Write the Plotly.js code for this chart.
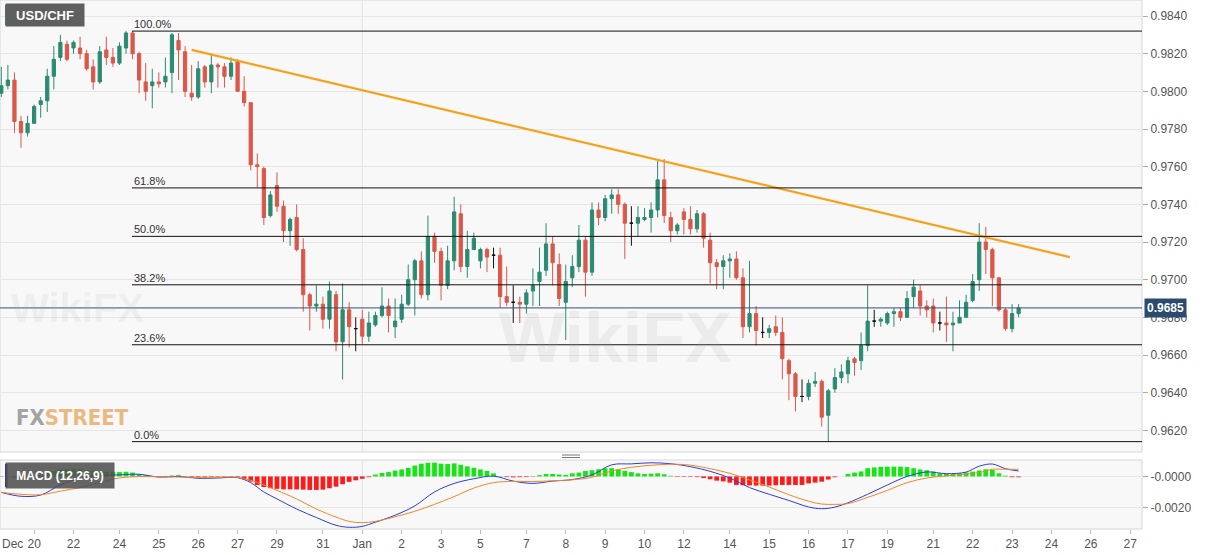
<!DOCTYPE html>
<html>
<head>
<meta charset="utf-8">
<script src="https://cdn.plot.ly/plotly-3.0.1.min.js"></script>
<style>
  html, body { margin: 0; padding: 0; background: #fff; }
  #chart { width: 1207px; height: 555px; }
</style>
</head>
<body>
<div id="chart"></div>
<script>
// USD/CHF 4H candles, index 0 = Dec 20 00:00 (Sunday = one candle)
const firstIdx = -5;

const opens = [
  0.9799, 0.9803, 0.9806, 0.9784, 0.9778, 0.9783, 0.9793, 0.9795, 0.9808, 0.9818,
  0.9825, 0.9823, 0.9823, 0.9820, 0.9813, 0.9805, 0.9822, 0.9818, 0.9815, 0.9823,
  0.9831, 0.9820, 0.9805, 0.9803, 0.9805, 0.9805, 0.9810, 0.9827, 0.9821, 0.9799,
  0.9797, 0.9813, 0.9805, 0.9814, 0.9813, 0.9808, 0.9816, 0.9800, 0.9794, 0.9761,
  0.9759, 0.9734, 0.9750, 0.9739, 0.9726, 0.9733, 0.9716, 0.9692, 0.9686, 0.9687,
  0.9679, 0.9692, 0.9667, 0.9684, 0.9674, 0.9679, 0.9670, 0.9676, 0.9681, 0.9686,
  0.9675, 0.9679, 0.9687, 0.9700, 0.9710, 0.9692, 0.9723, 0.9715, 0.9697, 0.9710,
  0.9735, 0.9707, 0.9716, 0.9710, 0.9716, 0.9713, 0.9713, 0.9691, 0.9688, 0.9688,
  0.9687, 0.9694, 0.9699, 0.9705, 0.9719, 0.9708, 0.9688, 0.9701, 0.9707, 0.9721,
  0.9704, 0.9737, 0.9733, 0.9743, 0.9745, 0.9740, 0.9730, 0.9730, 0.9732, 0.9733,
  0.9737, 0.9753, 0.9733, 0.9726, 0.9736, 0.9732, 0.9727, 0.9735, 0.9721, 0.9709,
  0.9707, 0.9710, 0.9711, 0.9701, 0.9675, 0.9682, 0.9672, 0.9672, 0.9675, 0.9672,
  0.9657, 0.9650, 0.9638, 0.9638, 0.9645, 0.9646, 0.9628, 0.9642, 0.9648, 0.9650,
  0.9658, 0.9657, 0.9665, 0.9678, 0.9678, 0.9677, 0.9682, 0.9683, 0.9680, 0.9691,
  0.9694, 0.9686, 0.9686, 0.9677, 0.9677, 0.9676, 0.9677, 0.9680, 0.9689, 0.9700,
  0.9720, 0.9716, 0.9701, 0.9684, 0.9674, 0.9682
];
const highs = [
  0.9813, 0.9814, 0.9810, 0.9787, 0.9787, 0.9793, 0.9797, 0.9812, 0.9824, 0.9830,
  0.9827, 0.9827, 0.9829, 0.9822, 0.9817, 0.9824, 0.9829, 0.9823, 0.9826, 0.9832,
  0.9832, 0.9821, 0.9815, 0.9812, 0.9810, 0.9818, 0.9831, 0.9831, 0.9824, 0.9814,
  0.9816, 0.9814, 0.9820, 0.9815, 0.9815, 0.9818, 0.9817, 0.9808, 0.9794, 0.9767,
  0.9760, 0.9747, 0.9757, 0.9742, 0.9733, 0.9740, 0.9722, 0.9693, 0.9697, 0.9691,
  0.9699, 0.9694, 0.9698, 0.9688, 0.9680, 0.9684, 0.9683, 0.9683, 0.9696, 0.9690,
  0.9690, 0.9692, 0.9708, 0.9711, 0.9715, 0.9734, 0.9725, 0.9717, 0.9718, 0.9744,
  0.9740, 0.9726, 0.9725, 0.9717, 0.9717, 0.9717, 0.9717, 0.9707, 0.9697, 0.9691,
  0.9695, 0.9706, 0.9717, 0.9730, 0.9723, 0.9714, 0.9708, 0.9713, 0.9729, 0.9723,
  0.9741, 0.9741, 0.9745, 0.9748, 0.9748, 0.9741, 0.9739, 0.9739, 0.9738, 0.9741,
  0.9763, 0.9764, 0.9736, 0.9730, 0.9738, 0.9739, 0.9737, 0.9736, 0.9725, 0.9711,
  0.9713, 0.9714, 0.9715, 0.9706, 0.9710, 0.9686, 0.9680, 0.9676, 0.9681, 0.9680,
  0.9658, 0.9651, 0.9647, 0.9647, 0.9651, 0.9647, 0.9642, 0.9653, 0.9655, 0.9659,
  0.9659, 0.9672, 0.9697, 0.9684, 0.9680, 0.9683, 0.9685, 0.9685, 0.9694, 0.9700,
  0.9697, 0.9689, 0.9690, 0.9683, 0.9691, 0.9683, 0.9689, 0.9692, 0.9703, 0.9730,
  0.9728, 0.9717, 0.9701, 0.9685, 0.9687, 0.9687
];
const lows = [
  0.9797, 0.9801, 0.9778, 0.9770, 0.9776, 0.9783, 0.9786, 0.9789, 0.9801, 0.9816,
  0.9816, 0.9820, 0.9817, 0.9811, 0.9801, 0.9804, 0.9814, 0.9813, 0.9814, 0.9820,
  0.9817, 0.9799, 0.9795, 0.9791, 0.9802, 0.9802, 0.9799, 0.9806, 0.9797, 0.9795,
  0.9796, 0.9802, 0.9799, 0.9802, 0.9802, 0.9806, 0.9800, 0.9792, 0.9758, 0.9749,
  0.9729, 0.9733, 0.9736, 0.9720, 0.9718, 0.9715, 0.9683, 0.9673, 0.9683, 0.9674,
  0.9674, 0.9662, 0.9647, 0.9664, 0.9662, 0.9666, 0.9667, 0.9675, 0.9680, 0.9672,
  0.9669, 0.9677, 0.9686, 0.9681, 0.9690, 0.9689, 0.9709, 0.9689, 0.9695, 0.9705,
  0.9704, 0.9701, 0.9716, 0.9706, 0.9704, 0.9706, 0.9685, 0.9686, 0.9677, 0.9677,
  0.9682, 0.9686, 0.9686, 0.9702, 0.9697, 0.9686, 0.9668, 0.9696, 0.9704, 0.9691,
  0.9702, 0.9729, 0.9731, 0.9735, 0.9735, 0.9711, 0.9718, 0.9723, 0.9731, 0.9725,
  0.9733, 0.9730, 0.9720, 0.9724, 0.9724, 0.9724, 0.9725, 0.9717, 0.9698, 0.9695,
  0.9695, 0.9701, 0.9700, 0.9669, 0.9672, 0.9665, 0.9669, 0.9669, 0.9670, 0.9647,
  0.9636, 0.9630, 0.9635, 0.9636, 0.9643, 0.9622, 0.9614, 0.9640, 0.9645, 0.9645,
  0.9649, 0.9652, 0.9662, 0.9675, 0.9675, 0.9676, 0.9675, 0.9678, 0.9680, 0.9685,
  0.9681, 0.9680, 0.9672, 0.9673, 0.9667, 0.9662, 0.9677, 0.9680, 0.9688, 0.9694,
  0.9703, 0.9686, 0.9683, 0.9673, 0.9672, 0.9680
];
const closes = [
  0.9803, 0.9806, 0.9784, 0.9778, 0.9783, 0.9792, 0.9795, 0.9808, 0.9817, 0.9826,
  0.9817, 0.9826, 0.9820, 0.9812, 0.9805, 0.9821, 0.9818, 0.9815, 0.9824, 0.9831,
  0.9820, 0.9806, 0.9800, 0.9805, 0.9804, 0.9808, 0.9830, 0.9822, 0.9800, 0.9797,
  0.9812, 0.9805, 0.9814, 0.9813, 0.9808, 0.9815, 0.9800, 0.9794, 0.9761, 0.9760,
  0.9733, 0.9745, 0.9739, 0.9726, 0.9732, 0.9716, 0.9692, 0.9686, 0.9687, 0.9679,
  0.9694, 0.9667, 0.9684, 0.9675, 0.9674, 0.9670, 0.9677, 0.9681, 0.9686, 0.9681,
  0.9678, 0.9687, 0.9700, 0.9710, 0.9692, 0.9723, 0.9715, 0.9697, 0.9710, 0.9736,
  0.9707, 0.9716, 0.9722, 0.9716, 0.9712, 0.9713, 0.9691, 0.9688, 0.9688, 0.9687,
  0.9693, 0.9697, 0.9704, 0.9719, 0.9709, 0.9690, 0.9699, 0.9707, 0.9721, 0.9704,
  0.9737, 0.9733, 0.9743, 0.9745, 0.9740, 0.9730, 0.9730, 0.9733, 0.9733, 0.9737,
  0.9753, 0.9734, 0.9726, 0.9729, 0.9732, 0.9727, 0.9735, 0.9722, 0.9709, 0.9707,
  0.9710, 0.9711, 0.9701, 0.9675, 0.9682, 0.9673, 0.9672, 0.9674, 0.9672, 0.9658,
  0.9650, 0.9638, 0.9638, 0.9645, 0.9646, 0.9627, 0.9641, 0.9648, 0.9651, 0.9657,
  0.9656, 0.9665, 0.9678, 0.9678, 0.9679, 0.9682, 0.9683, 0.9680, 0.9690, 0.9696,
  0.9686, 0.9684, 0.9677, 0.9677, 0.9676, 0.9677, 0.9680, 0.9688, 0.9699, 0.9720,
  0.9716, 0.9701, 0.9684, 0.9674, 0.9682, 0.9685
];

// MACD (12,26,9)
const macdHist = [
  -0.00002, -0.00005, -0.00008, -0.00010, -0.00006, 0.00000, 0.00008, 0.00020, 0.00035, 0.00045,
  0.00048, 0.00050, 0.00048, 0.00040, 0.00035, 0.00032, 0.00030, 0.00030, 0.00028, 0.00030,
  0.00025, 0.00015, 0.00008, 0.00002, -0.00003, -0.00004, 0.00006, 0.00008, 0.00002, -0.00004,
  -0.00006, -0.00005, -0.00004, -0.00003, -0.00003, -0.00002, -0.00005, -0.00018, -0.00033, -0.00055,
  -0.00068, -0.00076, -0.00080, -0.00083, -0.00083, -0.00084, -0.00085, -0.00087, -0.00087, -0.00085,
  -0.00076, -0.00066, -0.00050, -0.00035, -0.00025, -0.00015, -0.00005, 0.00012, 0.00022, 0.00028,
  0.00038, 0.00045, 0.00055, 0.00070, 0.00082, 0.00088, 0.00089, 0.00082, 0.00080, 0.00084,
  0.00075, 0.00065, 0.00056, 0.00045, 0.00035, 0.00020, 0.00002, -0.00004, -0.00006, -0.00005,
  -0.00004, -0.00002, 0.00008, 0.00016, 0.00016, 0.00012, 0.00010, 0.00020, 0.00025, 0.00035,
  0.00040, 0.00046, 0.00053, 0.00053, 0.00045, 0.00036, 0.00028, 0.00020, 0.00016, 0.00018,
  0.00020, 0.00014, 0.00004, -0.00003, -0.00003, -0.00003, -0.00004, -0.00010, -0.00018, -0.00027,
  -0.00032, -0.00040, -0.00055, -0.00057, -0.00058, -0.00059, -0.00059, -0.00059, -0.00057, -0.00055,
  -0.00055, -0.00055, -0.00055, -0.00045, -0.00040, -0.00034, -0.00020, -0.00005, 0.00000, 0.00016,
  0.00025, 0.00032, 0.00053, 0.00058, 0.00062, 0.00063, 0.00063, 0.00063, 0.00060, 0.00053,
  0.00045, 0.00040, 0.00031, 0.00020, 0.00016, 0.00016, 0.00020, 0.00026, 0.00031, 0.00038,
  0.00046, 0.00042, 0.00020, 0.00005, -0.00005, -0.00005
];
const macdIdx = [
  -5, -2, 1, 4, 7, 10, 13, 16, 19, 22, 25, 28, 31, 33, 35, 37, 40, 43, 46, 48,
  50, 52, 55, 58, 61, 64, 67, 70, 73, 76, 79, 82, 85, 88, 91, 94, 97, 100, 103, 106,
  109, 112, 115, 118, 120, 122, 124, 127, 130, 133, 136, 139, 142, 144, 146, 148, 150
];
const macdLine = [
  -0.00103, -0.00128, -0.00120, -0.00055, -0.00010, 0.00006, 0.00010, 0.00014, -0.00004, 0.00000,
  -0.00012, -0.00010, -0.00008, -0.00040, -0.00100, -0.00145, -0.00210, -0.00265, -0.00315, -0.00328,
  -0.00322, -0.00295, -0.00250, -0.00190, -0.00100, -0.00045, -0.00015, 0.00002, -0.00030, -0.00045,
  -0.00030, -0.00020, 0.00010, 0.00075, 0.00081, 0.00088, 0.00082, 0.00063, 0.00033, -0.00010,
  -0.00072, -0.00115, -0.00155, -0.00197, -0.00208, -0.00198, -0.00170, -0.00115, -0.00055, 0.00000,
  0.00029, 0.00018, 0.00028, 0.00066, 0.00080, 0.00050, 0.00035
];
const signalLine = [
  -0.00103, -0.00115, -0.00118, -0.00095, -0.00072, -0.00040, -0.00010, -0.00001, -0.00002, -0.00004,
  -0.00005, -0.00005, -0.00006, -0.00025, -0.00055, -0.00090, -0.00145, -0.00210, -0.00262, -0.00290,
  -0.00298, -0.00290, -0.00260, -0.00225, -0.00180, -0.00130, -0.00075, -0.00040, -0.00032, -0.00033,
  -0.00028, -0.00022, -0.00005, 0.00035, 0.00059, 0.00072, 0.00079, 0.00073, 0.00050, 0.00020,
  -0.00022, -0.00068, -0.00118, -0.00160, -0.00178, -0.00180, -0.00175, -0.00135, -0.00090, -0.00040,
  -0.00010, 0.00004, 0.00016, 0.00025, 0.00046, 0.00046, 0.00046
];

// date labels on the candle index axis
const dayTicks  = [0, 6, 13, 19, 25, 31, 37, 44, 50, 56, 62, 68, 75, 81, 87, 93, 99, 106, 112, 118, 124, 130, 137, 143, 149, 155, 161, 167];
const dayLabels = ['20', '22', '24', '25', '26', '27', '29', '31', 'Jan', '2', '3', '5', '7', '8', '9', '10', '12', '14', '15', '16', '17', '19', '21', '22', '23', '24', '26', '27'];
const priceTicks = [0.9620, 0.9640, 0.9660, 0.9680, 0.9700, 0.9720, 0.9740, 0.9760, 0.9780, 0.9800, 0.9820, 0.9840];

// fibonacci retracement Dec 24 high -> Jan 16 low
const fibHigh = 0.9832, fibLow = 0.9614, fibStartIdx = 14.9;
const fibRatios = [1, 0.618, 0.5, 0.382, 0.236, 0];

// falling trend line
const trendX = [24, 157.8];
const trendY = [0.9822, 0.9712];

// ---------------------------------------------------------------
const W = 1142, H = 529;            // plot area size in px
const px = x => x / W;
const py = y => (H - y) / H;
const xRange = [-5.2, 168.8];

const idx = opens.map((_, k) => k + firstIdx);
const isDoji = opens.map((o, k) => o === closes[k]);
const pick = (arr, want) => arr.map((v, k) => isDoji[k] === want ? v : null);

const candles = {
  type: 'candlestick', x: idx,
  open: pick(opens, false), high: pick(highs, false), low: pick(lows, false), close: pick(closes, false),
  increasing: {line: {color: '#2b8a72', width: 1}, fillcolor: '#2b8a72'},
  decreasing: {line: {color: '#d9584a', width: 1}, fillcolor: '#d9584a'},
  whiskerwidth: 0, hoverinfo: 'skip', xaxis: 'x', yaxis: 'y'
};
const dojis = {
  type: 'candlestick', x: idx,
  open: pick(opens, true), high: pick(highs, true), low: pick(lows, true), close: pick(closes, true),
  increasing: {line: {color: '#111', width: 1}, fillcolor: '#111'},
  decreasing: {line: {color: '#111', width: 1}, fillcolor: '#111'},
  whiskerwidth: 0, hoverinfo: 'skip', xaxis: 'x', yaxis: 'y'
};
const trend = {
  type: 'scatter', mode: 'lines', x: trendX, y: trendY,
  line: {color: '#f7a11a', width: 2.2}, hoverinfo: 'skip', xaxis: 'x', yaxis: 'y'
};
const hist = {
  type: 'bar', x: idx, y: macdHist, width: 0.72,
  marker: {color: macdHist.map(v => v >= 0 ? '#14e614' : '#ff1a1a'), line: {width: 0}},
  hoverinfo: 'skip', xaxis: 'x', yaxis: 'y2'
};
const macd = {
  type: 'scatter', mode: 'lines', x: macdIdx, y: macdLine,
  line: {color: '#2a3fd6', width: 1, shape: 'spline'}, hoverinfo: 'skip', xaxis: 'x', yaxis: 'y2'
};
const signal = {
  type: 'scatter', mode: 'lines', x: macdIdx, y: signalLine,
  line: {color: '#f0872a', width: 1, shape: 'spline'}, hoverinfo: 'skip', xaxis: 'x', yaxis: 'y2'
};

const lastClose = closes[closes.length - 1];
const axisFont = {family: 'Arial, Liberation Sans, sans-serif', size: 12, color: '#555'};

const shapes = [
  // panel backgrounds
  {type: 'rect', xref: 'paper', yref: 'paper', x0: 0, x1: 1, y0: py(452), y1: 1,
   fillcolor: '#f8f8f8', line: {color: '#d6d6d6', width: 1}, layer: 'below'},
  {type: 'rect', xref: 'paper', yref: 'paper', x0: 0, x1: 1, y0: 0, y1: py(460),
   fillcolor: '#f8f8f8', line: {color: '#d6d6d6', width: 1}, layer: 'below'},
  // month separator
  {type: 'line', xref: 'x', yref: 'paper', x0: 50, x1: 50, y0: py(452), y1: 1,
   line: {color: '#e2e2e2', width: 1}, layer: 'below'},
  {type: 'line', xref: 'x', yref: 'paper', x0: 50, x1: 50, y0: 0, y1: py(460),
   line: {color: '#e2e2e2', width: 1}, layer: 'below'},
  // current price line
  {type: 'line', xref: 'paper', yref: 'y', x0: 0, x1: 1, y0: lastClose, y1: lastClose,
   line: {color: '#34507a', width: 1}},
  // panel splitter handle
  {type: 'line', xref: 'paper', yref: 'paper', x0: px(562), x1: px(580), y0: py(455), y1: py(455),
   line: {color: '#777', width: 1}},
  {type: 'line', xref: 'paper', yref: 'paper', x0: px(562), x1: px(580), y0: py(457.5), y1: py(457.5),
   line: {color: '#777', width: 1}}
];

const annotations = [
  {xref: 'paper', yref: 'paper', x: 0, y: 0, xanchor: 'left', yanchor: 'top', yshift: -6,
   text: 'Dec', showarrow: false, font: axisFont},
  {xref: 'paper', yref: 'paper', x: px(5), y: py(15), xanchor: 'left', yanchor: 'middle',
   text: '<b>USD/CHF</b>', showarrow: false,
   font: {family: 'Arial, Liberation Sans, sans-serif', size: 13, color: '#fff'},
   bgcolor: '#5f5f5f', width: 76, height: 20},
  {xref: 'paper', yref: 'paper', x: px(5), y: py(475.5), xanchor: 'left', yanchor: 'middle',
   text: '<b>MACD (12,26,9)</b>', showarrow: false,
   font: {family: 'Arial, Liberation Sans, sans-serif', size: 12, color: '#fff'},
   bgcolor: 'rgba(80,80,80,0.88)', width: 106, height: 23},
  {xref: 'paper', yref: 'y', x: 1, xanchor: 'left', xshift: 2, y: lastClose,
   text: '<b>' + lastClose.toFixed(4) + '</b>', showarrow: false,
   font: {family: 'Arial, Liberation Sans, sans-serif', size: 12, color: '#fff'},
   bgcolor: '#2b4a6f', borderpad: 2},
  // FXStreet logo
  {xref: 'paper', yref: 'paper', x: px(14), y: py(417), xanchor: 'left', yanchor: 'middle', showarrow: false,
   text: '<span style="color:#a3a3a3">FX</span><span style="color:#ebb87f">STREET</span>',
   font: {family: 'DejaVu Sans Condensed, Liberation Sans Narrow, sans-serif', size: 22, weight: 700}},
  // faint watermarks
  {xref: 'paper', yref: 'paper', x: px(78), y: py(308), xanchor: 'center', yanchor: 'middle',
   showarrow: false, text: '<b>WikiFX</b>',
   font: {family: 'Arial, Liberation Sans, sans-serif', size: 40, color: 'rgba(170,170,170,0.15)'}},
  {xref: 'paper', yref: 'paper', x: px(615), y: py(338), xanchor: 'center', yanchor: 'middle',
   showarrow: false, text: '<b>WikiFX</b>',
   font: {family: 'Arial, Liberation Sans, sans-serif', size: 70, color: 'rgba(170,170,170,0.15)'}}
];

fibRatios.forEach(r => {
  const level = fibLow + r * (fibHigh - fibLow);
  shapes.push({type: 'line', xref: 'x', yref: 'y', x0: fibStartIdx, x1: xRange[1], y0: level, y1: level,
    line: {color: '#111', width: 1}});
  annotations.push({xref: 'x', yref: 'y', x: fibStartIdx, y: level, xanchor: 'left', yanchor: 'bottom',
    text: (r * 100).toFixed(1) + '%', showarrow: false, yshift: -1,
    font: {family: 'Arial, Liberation Sans, sans-serif', size: 11, color: '#333'}});
});

// coloured stripes on the left of the two labels (drawn last so they sit on top)
shapes.push(
  {type: 'rect', xref: 'paper', yref: 'paper', x0: px(5), x1: px(7.5), y0: py(25), y1: py(5),
   fillcolor: '#2b8a72', line: {width: 0}},
  {type: 'rect', xref: 'paper', yref: 'paper', x0: px(5), x1: px(7.5), y0: py(487), y1: py(464),
   fillcolor: '#2636b0', line: {width: 0}}
);

const layout = {
  width: 1207, height: 555,
  margin: {l: 0, r: 65, t: 0, b: 26},
  paper_bgcolor: '#fff', plot_bgcolor: 'rgba(0,0,0,0)',
  showlegend: false, dragmode: false,
  xaxis: {
    range: xRange, anchor: 'y2', tickmode: 'array', tickvals: dayTicks, ticktext: dayLabels,
    ticks: 'outside', ticklen: 4, tickcolor: '#bbb', showgrid: false, zeroline: false,
    showline: false, tickfont: axisFont, rangeslider: {visible: false}
  },
  yaxis: {
    domain: [py(452), 1], range: [0.96085, 0.98485], side: 'right',
    tickmode: 'array', tickvals: priceTicks, tickformat: '.4f',
    ticks: 'outside', ticklen: 5, tickcolor: '#aaa', gridcolor: '#e6e6e6', zeroline: false,
    tickfont: axisFont
  },
  yaxis2: {
    domain: [0, py(460)], range: [-0.00339, 0.00106], side: 'right',
    tickmode: 'array', tickvals: [0, -0.002], ticktext: ['-0.0000', '-0.0020'],
    ticks: 'outside', ticklen: 5, tickcolor: '#aaa', gridcolor: '#e6e6e6', zeroline: false,
    tickfont: axisFont
  },
  shapes: shapes,
  annotations: annotations
};

Plotly.newPlot('chart', [hist, macd, signal, candles, dojis, trend], layout,
  {displayModeBar: false, staticPlot: true});
</script>
</body>
</html>
